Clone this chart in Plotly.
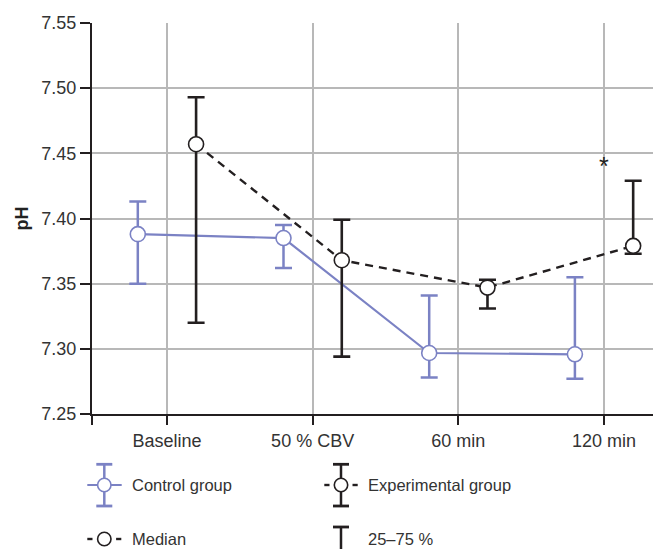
import plotly.graph_objects as go

categories = ["Baseline", "50 % CBV", "60 min", "120 min"]
ctrl_median = [7.388, 7.385, 7.2968, 7.2958]
ctrl_q75 = [7.413, 7.395, 7.341, 7.355]
ctrl_q25 = [7.350, 7.362, 7.278, 7.277]
exp_median = [7.457, 7.368, 7.347, 7.379]
exp_q75 = [7.493, 7.399, 7.353, 7.429]
exp_q25 = [7.320, 7.294, 7.331, 7.373]
y_ticks = [7.25, 7.30, 7.35, 7.40, 7.45, 7.50, 7.55]
sig_marks = ["", "", "", "*"]

BLUE = "#7b82c4"
BLACK = "#231f20"
GRID = "#b8b8b8"
FONT = "Liberation Sans, Arial, sans-serif"

W, H = 656, 549
ML, MR, MT, MB = 92, 3, 23, 135
PW, PH = W - ML - MR, H - MT - MB

def px(p):
    return (p - ML) / PW

def py(p):
    return (H - MB - p) / PH

idx = list(range(len(categories)))
off = 0.2
x_ctrl = [i - off for i in idx]
x_exp = [i + off for i in idx]

fig = go.Figure()
fig.add_trace(go.Scatter(
    x=x_ctrl, y=ctrl_median, mode="lines+markers",
    line=dict(color=BLUE, width=2.2),
    marker=dict(symbol="circle", size=15, color="white", line=dict(color=BLUE, width=1.6)),
    error_y=dict(type="data", symmetric=False,
                 array=[a - m for a, m in zip(ctrl_q75, ctrl_median)],
                 arrayminus=[m - b for b, m in zip(ctrl_q25, ctrl_median)],
                 color=BLUE, thickness=2.5, width=8.5),
    showlegend=False, cliponaxis=False))
fig.add_trace(go.Scatter(
    x=x_exp, y=exp_median, mode="lines+markers",
    line=dict(color=BLACK, width=2.4, dash="8px,6px"),
    marker=dict(symbol="circle", size=15, color="white", line=dict(color=BLACK, width=1.6)),
    error_y=dict(type="data", symmetric=False,
                 array=[a - m for a, m in zip(exp_q75, exp_median)],
                 arrayminus=[m - b for b, m in zip(exp_q25, exp_median)],
                 color=BLACK, thickness=2.6, width=8.5),
    showlegend=False, cliponaxis=False))

annotations = []
for i, s in enumerate(sig_marks):
    if s:
        annotations.append(dict(x=i, y=7.437, xref="x", yref="y", text=s, showarrow=False,
                                yanchor="top", yshift=20,
                                font=dict(family=FONT, size=25, color=BLACK)))

# custom legend
shapes = []
def line(x0, y0, x1, y1, color, width=2.5):
    shapes.append(dict(type="line", xref="paper", yref="paper",
                       x0=px(x0), y0=py(y0), x1=px(x1), y1=py(y1),
                       line=dict(color=color, width=width)))

def circ(cx, cy, r, color):
    shapes.append(dict(type="circle", xref="paper", yref="paper",
                       x0=px(cx - r), x1=px(cx + r), y0=py(cy + r), y1=py(cy - r),
                       fillcolor="white", line=dict(color=color, width=1.6)))

def label(x, y, text):
    annotations.append(dict(x=px(x), y=py(y), xref="paper", yref="paper", text=text,
                            showarrow=False, xanchor="left", yanchor="middle",
                            font=dict(family=FONT, size=16.5, color="#333333")))

# Control group icon
cx, cy = 104.3, 485
line(87.3, cy, 121.7, cy, BLUE, 2.2)
line(cx, 464.3, cx, 506, BLUE, 2.5)
line(cx - 8, 464.3, cx + 8, 464.3, BLUE, 2.8)
line(cx - 8, 506, cx + 8, 506, BLUE, 2.8)
circ(cx, cy, 6.7, BLUE)
label(130, cy, "Control group")

# Experimental group icon
ex = 341
line(ex, 464.3, ex, 506, BLACK, 2.5)
line(ex - 8, 464.3, ex + 8, 464.3, BLACK, 2.8)
line(ex - 8, 506, ex + 8, 506, BLACK, 2.8)
line(324.3, cy, 329.5, cy, BLACK, 2.4)
line(352.5, cy, 357.7, cy, BLACK, 2.4)
circ(ex, cy, 6.7, BLACK)
label(366, cy, "Experimental group")

# Median icon
my = 539
line(87.3, my, 92.5, my, BLACK, 2.4)
line(116.1, my, 121.3, my, BLACK, 2.4)
circ(104.3, my, 6.7, BLACK)
label(130, my, "Median")

# 25-75 % icon
line(ex, 527, ex, 552, BLACK, 2.5)
line(ex - 8, 527, ex + 8, 527, BLACK, 2.8)
label(366, my, "25–75 %")

x_start = -75 / 145.8
x_end = 3 + 49 / 145.8

fig.update_layout(
    width=W, height=H,
    margin=dict(l=ML, r=MR, t=MT, b=MB, pad=0),
    paper_bgcolor="white", plot_bgcolor="white",
    font=dict(family=FONT, size=18, color="#333333"),
    shapes=shapes, annotations=annotations,
    xaxis=dict(range=[x_start, x_end], tickvals=[x_start] + idx, ticktext=[""] + categories,
               showgrid=True, gridcolor=GRID, gridwidth=1.5,
               showline=True, linecolor=BLACK, linewidth=2,
               ticks="outside", ticklen=9, tickwidth=2, tickcolor=BLACK,
               tickfont=dict(family=FONT, size=18, color="#333333"),
               zeroline=False, fixedrange=True),
    yaxis=dict(range=[7.25, 7.55], tickvals=y_ticks, tickformat=".2f",
               showgrid=True, gridcolor=GRID, gridwidth=1.5,
               showline=True, linecolor=BLACK, linewidth=2,
               ticks="outside", ticklen=10, tickwidth=2, tickcolor=BLACK,
               tickfont=dict(family=FONT, size=18, color="#333333"),
               title=dict(text="<b>pH</b>", standoff=8, font=dict(family=FONT, size=18, color="#222222")),
               zeroline=False, fixedrange=True),
)

fig.write_html("out.html", config={"displayModeBar": False},
               post_script="document.body.style.margin='0';document.body.style.overflow='hidden';")
